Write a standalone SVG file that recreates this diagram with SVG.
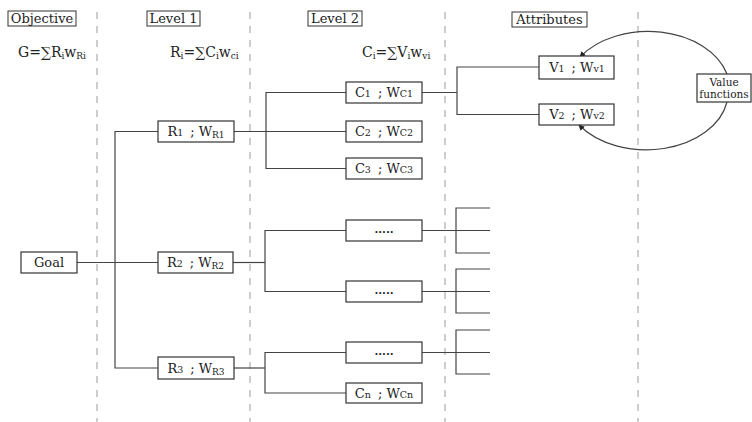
<svg xmlns="http://www.w3.org/2000/svg" width="752" height="422" viewBox="0 0 752 422">
<defs>
<style>
.dash{stroke:#9a9a9a;stroke-width:1;stroke-dasharray:7,7;fill:none}
.ln{stroke:#444;stroke-width:1.2;fill:none}
.box{fill:#fff;stroke:#333;stroke-width:1.2}
.hdr{fill:#fff;stroke:#333;stroke-width:1}
text{font-family:"DejaVu Serif","Liberation Serif",serif;fill:#222}
.h{font-size:13px;text-anchor:middle}
.f{font-size:14px}
.t{font-size:13px;text-anchor:middle}
.vf{font-size:10.5px;text-anchor:middle}
.dots{font-size:11px;text-anchor:middle;font-weight:bold}
</style>
<marker id="ah" viewBox="0 0 8 8" refX="7" refY="4" markerWidth="6" markerHeight="6" orient="auto" markerUnits="userSpaceOnUse">
<path d="M0 0 L8 4 L0 8 Z" fill="#222"/>
</marker>
</defs>
<rect width="752" height="422" fill="#fff"/>
<g id="guides">
<line class="dash" x1="97" y1="12" x2="97" y2="422"/>
<line class="dash" x1="250" y1="12" x2="250" y2="422"/>
<line class="dash" x1="445" y1="12" x2="445" y2="422"/>
<line class="dash" x1="638" y1="12" x2="638" y2="422"/>
</g>
<g id="headers">
<rect class="hdr" x="8" y="11" width="68" height="15"/>
<text class="h" x="42" y="23">Objective</text>
<rect class="hdr" x="147" y="11" width="53" height="15"/>
<text class="h" x="173.5" y="23">Level 1</text>
<rect class="hdr" x="308" y="11" width="54" height="15"/>
<text class="h" x="335" y="23">Level 2</text>
<rect class="hdr" x="512" y="12" width="75" height="15"/>
<text class="h" x="549.5" y="24">Attributes</text>
</g>
<g id="formulas">
<text class="f" x="18" y="57">G=∑R<tspan font-size="9" dy="2">i</tspan><tspan dy="-2">w</tspan><tspan font-size="9" dy="2">Ri</tspan></text>
<text class="f" x="170" y="57">R<tspan font-size="9" dy="2">i</tspan><tspan dy="-2">=∑C</tspan><tspan font-size="9" dy="2">i</tspan><tspan dy="-2">w</tspan><tspan font-size="9" dy="2">ci</tspan></text>
<text class="f" x="362" y="57">C<tspan font-size="9" dy="2">i</tspan><tspan dy="-2">=∑V</tspan><tspan font-size="9" dy="2">i</tspan><tspan dy="-2">w</tspan><tspan font-size="9" dy="2">vi</tspan></text>
</g>
<g id="connectors">
<path class="ln" d="M77 262.5 H158"/>
<path class="ln" d="M158 131.5 H115 V368 H158"/>
<path class="ln" d="M234 131.5 H346"/>
<path class="ln" d="M346 92.5 H266 V168.5 H346"/>
<path class="ln" d="M422 92.5 H457"/>
<path class="ln" d="M539 67 H457 V114.5 H539"/>
<path class="ln" d="M233 262.5 H265"/>
<path class="ln" d="M346 230.5 H265 V291.5 H346"/>
<path class="ln" d="M234 368 H265"/>
<path class="ln" d="M346 352.5 H265 V393 H346"/>
<path class="ln" d="M422 230.5 H490 M490 208 H456 V253 H490"/>
<path class="ln" d="M422 291.5 H490 M490 269 H456 V313 H490"/>
<path class="ln" d="M422 352.5 H490 M490 330 H456 V374 H490"/>
<path class="ln" stroke-width="1.1" d="M727 74 A82 58 0 0 0 580 57" marker-end="url(#ah)"/>
<path class="ln" stroke-width="1.1" d="M727 102 A82 58 0 0 1 579 125" marker-end="url(#ah)"/>
</g>
<g id="goal">
<rect class="box" x="21" y="252" width="56" height="21"/>
<text class="t" x="49" y="267">Goal</text>
</g>
<g id="r1">
<rect class="box" x="158" y="121" width="76" height="21"/>
<text class="t" x="196" y="136">R<tspan font-size="9.5">1</tspan><tspan dx="7">; W</tspan><tspan font-size="9" dy="2">R1</tspan></text>
</g>
<g id="r2">
<rect class="box" x="158" y="252" width="75" height="21"/>
<text class="t" x="195.5" y="267">R<tspan font-size="9.5">2</tspan><tspan dx="7">; W</tspan><tspan font-size="9" dy="2">R2</tspan></text>
</g>
<g id="r3">
<rect class="box" x="158" y="357" width="76" height="22"/>
<text class="t" x="196" y="373">R<tspan font-size="9.5">3</tspan><tspan dx="7">; W</tspan><tspan font-size="9" dy="2">R3</tspan></text>
</g>
<g id="c1">
<rect class="box" x="346" y="82" width="76" height="21"/>
<text class="t" x="384" y="97">C<tspan font-size="9.5">1</tspan><tspan dx="7">; W</tspan><tspan font-size="9.5">C1</tspan></text>
</g>
<g id="c2">
<rect class="box" x="346" y="121" width="76" height="21"/>
<text class="t" x="384" y="136">C<tspan font-size="9.5">2</tspan><tspan dx="7">; W</tspan><tspan font-size="9.5">C2</tspan></text>
</g>
<g id="c3">
<rect class="box" x="346" y="158" width="76" height="21"/>
<text class="t" x="384" y="173">C<tspan font-size="9.5">3</tspan><tspan dx="7">; W</tspan><tspan font-size="9.5">C3</tspan></text>
</g>
<g id="cx1">
<rect class="box" x="346" y="220" width="76" height="21"/>
<text class="dots" x="384" y="233">.....</text>
</g>
<g id="cx2">
<rect class="box" x="346" y="281" width="76" height="21"/>
<text class="dots" x="384" y="294">.....</text>
</g>
<g id="cx3">
<rect class="box" x="346" y="342" width="76" height="21"/>
<text class="dots" x="384" y="355">.....</text>
</g>
<g id="cn">
<rect class="box" x="346" y="383" width="76" height="20"/>
<text class="t" x="384" y="398">C<tspan font-size="9.5">n</tspan><tspan dx="7">; W</tspan><tspan font-size="9.5">Cn</tspan></text>
</g>
<g id="v1">
<rect class="box" x="539" y="56" width="75" height="23"/>
<text class="t" x="577" y="72">V<tspan font-size="9.5">1</tspan><tspan dx="7">; W</tspan><tspan font-size="9.5">v1</tspan></text>
</g>
<g id="v2">
<rect class="box" x="539" y="104" width="75" height="21"/>
<text class="t" x="577" y="119">V<tspan font-size="9.5">2</tspan><tspan dx="7">; W</tspan><tspan font-size="9.5">v2</tspan></text>
</g>
<g id="valuefunctions">
<rect class="box" x="697" y="74" width="54" height="28"/>
<text class="vf" x="724" y="85.5">Value</text>
<text class="vf" x="724" y="98">functions</text>
</g>
</svg>
